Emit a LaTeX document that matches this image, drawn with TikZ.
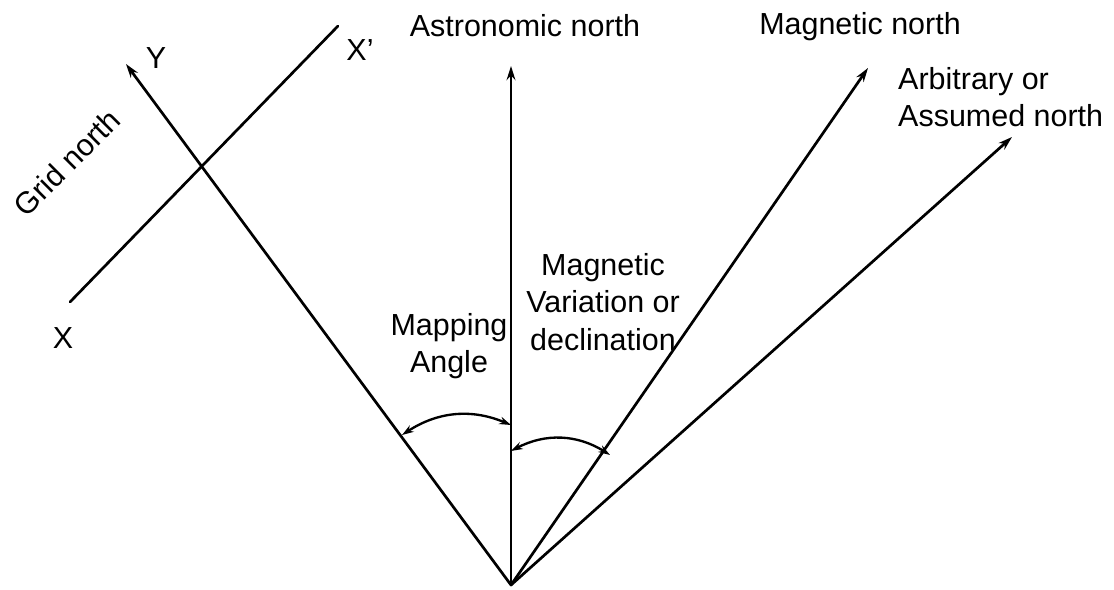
\documentclass[tikz,border=0pt]{standalone}
\usepackage{fontspec}
\setmainfont{Liberation Sans}
\usetikzlibrary{arrows.meta}
\begin{document}
\begin{tikzpicture}[x=0.03cm,y=-0.03cm,
  line/.style={line width=2.3pt,line cap=round},
  arr/.style={line, -{Stealth[length=12pt,width=7.5pt]}},
  dbl/.style={line width=2pt, {Stealth[length=10pt,width=6.5pt]}-{Stealth[length=10pt,width=6.5pt]}},
  lbl/.style={font=\fontsize{26}{32}\selectfont, inner sep=0pt}]
\useasboundingbox (0,0) rectangle (1114,590);
\coordinate (O) at (511,585);
\coordinate (astro) at (511,66);
\coordinate (ytip) at (126,64);
\coordinate (mag) at (868,68);
\coordinate (arb) at (1012,137);
\coordinate (xa) at (70,302);
\coordinate (xb) at (338,26);
\coordinate (m1) at (402,435);
\coordinate (m2) at (511,425);
\coordinate (d1) at (511,451);
\coordinate (d2) at (610,455);
\draw[arr] (O) -- (astro);
\draw[arr] (O) -- (ytip);
\draw[arr] (O) -- (mag);
\draw[arr] (O) -- (arb);
\draw[line] (xa) -- (xb);
\draw[dbl] (m1) to[bend left=28] (m2);
\draw[dbl] (d1) to[bend left=30] (d2);
\node[lbl] (tastro) at (525,26) {Astronomic north};
\node[lbl] (tmag) at (860,27) {Magnetic north};
\node[lbl, anchor=west, align=left] (tarb) at (898,97) {Arbitrary or\\Assumed north};
\node[lbl, rotate=45] (tgrid) at (67,163) {Grid north};
\node[lbl] (ty) at (156,58) {Y};
\node[lbl] (txp) at (360,50) {X’};
\node[lbl] (tx) at (63,338) {X};
\node[lbl, align=center] (tmap) at (449,346) {Mapping\\Angle};
\node[lbl, align=center] (tdec) at (603,302) {Magnetic\\Variation or\\declination};
\end{tikzpicture}
\end{document}
